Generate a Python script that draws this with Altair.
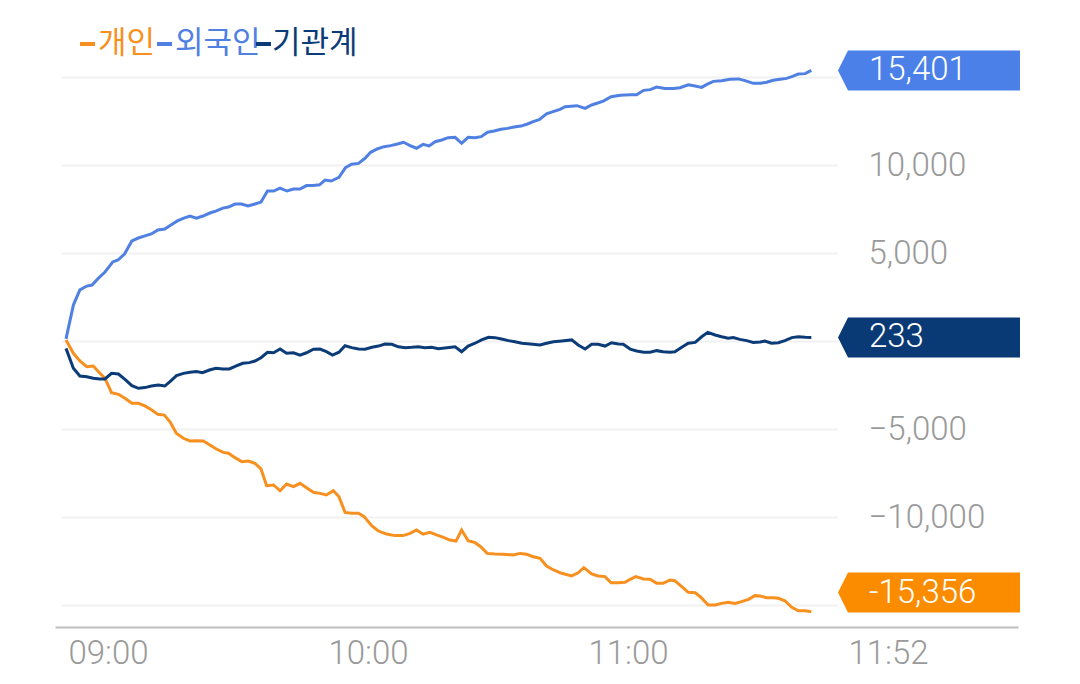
import altair as alt
import pandas as pd

# minutes after 09:00
blue_t = [0, 1.7, 3.2, 4.8, 6, 7.5, 9, 10.8, 12, 13.5, 15.2, 16.7, 18.2, 19.7, 21.2, 22.8, 24.2, 25.7, 27.2, 28.6,
          30.1, 31.6, 33.2, 34.7, 36.2, 37.5, 39, 40.5, 42, 43.6, 45, 46.5, 47.9, 49.4, 51, 52.5, 54, 55.5, 57, 58.5,
          59.8, 61.2, 63, 64.5, 65.9, 67.5, 69, 70.3, 71.8, 73.4, 74.9, 76.5, 77.9, 79.4, 80.9, 82.4, 83.8, 85.2, 86.7, 88.2,
          89.8, 91.3, 92.8, 94.4, 95.8, 97.3, 98.8, 100.4, 101.9, 103.4, 105, 106.5, 107.8, 109.2, 110.9, 112.4, 114, 115.2, 117.9, 119.8,
          121.3, 122.7, 124, 125.8, 127.9, 130.2, 131.7, 133.3, 134.8, 136.3, 138.2, 140.2, 141.7, 143.6, 145.2, 146.7, 147.9, 149.4, 151.3, 153.2,
          155.2, 156.7, 158.6, 160.2, 161.7, 163.2, 164.8, 166.3, 167.5, 169, 170.6, 172]
blue_v = [150, 2070, 2930, 3150, 3210, 3600, 3950, 4520, 4630, 4970, 5710, 5880, 6000, 6110, 6340, 6390, 6620, 6850, 7010, 7130,
          7010, 7130, 7300, 7420, 7580, 7640, 7810, 7810, 7700, 7810, 7920, 8550, 8550, 8720, 8550, 8660, 8660, 8860, 8870, 8900,
          9170, 9120, 9330, 9880, 10070, 10120, 10410, 10750, 10940, 11070, 11130, 11220, 11320, 11130, 10980, 11200, 11110, 11350, 11450, 11580,
          11600, 11260, 11600, 11580, 11640, 11890, 11960, 12060, 12110, 12190, 12240, 12360, 12490, 12600, 12930, 13060, 13190, 13340, 13400, 13250,
          13440, 13550, 13660, 13910, 13990, 14020, 14020, 14270, 14310, 14460, 14380, 14370, 14420, 14590, 14520, 14440, 14610, 14780, 14820, 14900,
          14920, 14820, 14670, 14670, 14730, 14840, 14900, 14950, 15050, 15200, 15220, 15401]

navy_t = [0, 1.7, 3.2, 4.8, 6.3, 7.8, 9, 10.5, 12.1, 13.6, 15.2, 16.7, 18.2, 19.7, 21.3, 22.8, 24, 25.5, 27.1, 28.6,
          30.1, 31.5, 33.1, 34.6, 36.2, 37.7, 39.3, 40.8, 42.3, 43.6, 45, 46.5, 47.9, 49.4, 50.9, 52.5, 54, 55.5, 57.1, 58.6,
          60.1, 61.5, 63, 64.4, 65.9, 67.5, 69, 70.6, 72.1, 73.6, 75.2, 76.7, 78.3, 79.8, 81.3, 82.8, 84.4, 85.9, 87.9, 89.8,
          91.3, 92.8, 94.4, 95.9, 97.5, 99, 100.5, 102.1, 103.6, 105.2, 107.1, 109.4, 110.9, 112.5, 114.4, 116.7, 118.2, 119.8, 121.3, 122.8,
          124.4, 125.9, 127.5, 128.6, 130.2, 131.7, 133.3, 134.8, 136.3, 137.8, 139.4, 140.5, 142.1, 143.6, 145.2, 146.7, 148.1, 149.8, 151.3, 152.8,
          154, 155.5, 157.1, 158.6, 160.2, 161.3, 162.8, 164.4, 165.9, 167.5, 169, 170.6, 172]
navy_v = [-390, -1520, -1960, -2000, -2090, -2130, -2130, -1810, -1850, -2150, -2510, -2660, -2620, -2530, -2470, -2530, -2280, -1940, -1810, -1750,
          -1710, -1770, -1620, -1520, -1560, -1560, -1390, -1240, -1200, -1110, -920, -610, -640, -430, -670, -640, -770, -640, -440, -430,
          -580, -770, -610, -240, -350, -430, -440, -330, -260, -140, -160, -300, -350, -330, -300, -350, -330, -410, -350, -300,
          -580, -260, -100, 90, 240, 220, 140, 50, -10, -100, -140, -200, -100, -10, 30, 90, -200, -430, -160, -160,
          -260, -70, -140, -160, -430, -540, -610, -610, -520, -580, -610, -580, -330, -100, -50, 270, 520, 370, 270, 180,
          220, 120, 50, -50, -30, 30, -100, -70, 50, 220, 270, 240, 233]

orange_t = [0, 1.7, 3.2, 4.8, 6.3, 7.5, 9, 10.5, 12.1, 13.6, 15.2, 16.7, 18.2, 19.8, 21.2, 22.7, 24, 25.5, 27.1, 28.6,
            30.1, 31.7, 33.2, 34.7, 36.3, 37.5, 39, 40.6, 42.1, 43.6, 45, 46.3, 47.9, 49.4, 50.9, 52.5, 54, 55.5, 57.1, 58.6,
            60.1, 61.7, 63, 64.4, 65.9, 67.5, 68.8, 70.6, 72.1, 74, 75.9, 77.8, 79.4, 80.9, 82.4, 84, 85.5, 87.1, 88.6, 90,
            91.3, 92.8, 94.4, 95.7, 97.2, 99, 100.9, 103.2, 104.8, 106.3, 107.8, 109.4, 110.9, 112.5, 114.4, 116.7, 118.2, 119.5, 121.3, 122.8,
            124.4, 125.8, 127.5, 129, 130.2, 131.5, 133.3, 134.8, 136.3, 137.8, 139.4, 140.5, 142.1, 143.6, 145.2, 146.5, 148.2, 149.8, 151.3, 152.8,
            154.4, 155.9, 157.5, 159, 160.2, 161.7, 163.2, 164.4, 165.9, 167.5, 169, 170.6, 172]
orange_v = [90, -670, -1110, -1430, -1390, -1720, -2090, -2910, -3000, -3230, -3510, -3510, -3660, -3890, -4140, -4180, -4560, -5220, -5500, -5650,
            -5640, -5650, -5880, -6110, -6300, -6350, -6600, -6830, -6790, -6920, -7240, -8190, -8150, -8480, -8100, -8250, -8060, -8310, -8570, -8630,
            -8720, -8480, -8820, -9710, -9760, -9760, -9950, -10480, -10770, -10940, -11030, -11030, -10900, -10710, -10950, -10840, -10990, -11130, -11280, -11340,
            -10710, -11320, -11430, -11660, -12040, -12080, -12090, -12130, -12040, -12090, -12230, -12320, -12760, -12980, -13170, -13320, -13140, -12850, -13210, -13320,
            -13360, -13710, -13710, -13680, -13510, -13360, -13490, -13510, -13740, -13740, -13550, -13590, -13930, -14250, -14270, -14530, -14970, -14970, -14880, -14820,
            -14880, -14780, -14650, -14440, -14460, -14560, -14560, -14590, -14730, -15100, -15300, -15300, -15356]

series_names = ["개인", "외국인", "기관계"]
line_colors = ["#f7901e", "#4f80e2", "#0c3c78"]
badge_colors = ["#fb8c00", "#4a80e8", "#0a3a75"]
last_values = [-15356, 15401, 233]

grid_vals = [-15000, -10000, -5000, 0, 5000, 10000, 15000]
y_label_vals = [-10000, -5000, 5000, 10000]
x_tick_vals = [0, 60, 120, 180]
x_tick_labels = ["09:00", "10:00", "11:00", "11:52"]

NUM_FONT = "Roboto"
KR_FONT = "Noto Sans CJK KR"

rows = []
for name, ts, vs in [("개인", orange_t, orange_v), ("외국인", blue_t, blue_v), ("기관계", navy_t, navy_v)]:
    for t, v in zip(ts, vs):
        rows.append({"series": name, "t": t, "v": v})
df = pd.DataFrame(rows)

xscale = alt.Scale(domain=[-2.54, 219.7], nice=False, zero=False)
yscale = alt.Scale(domain=[-16222, 16847], nice=False, zero=False)
color_scale = alt.Scale(domain=series_names, range=line_colors)

label_expr = "[" + ",".join("'%s'" % s for s in x_tick_labels) + "][indexof([" + ",".join(str(v) for v in x_tick_vals) + "], datum.value)]"

y_axis = alt.Axis(
    orient="right", values=y_label_vals, format=",d",
    labelAlign="left", labelPadding=-150,
    ticks=False, tickSize=0, domain=False, grid=False, title=None,
    labelFont=NUM_FONT, labelFontSize=33, labelFontWeight=300, labelColor="#9a9a9a",
    labelBaseline="middle")

grid = alt.Chart(pd.DataFrame({"g": grid_vals})).mark_rule(color="#f1f1f1", strokeWidth=2).encode(
    y=alt.Y("g:Q", scale=yscale, axis=y_axis),
    x=alt.value(7), x2=alt.value(783),
)

axis_x = alt.Axis(values=x_tick_vals, labelExpr=label_expr, labelAlign="left", labelBaseline="top",
                  labelPadding=10, labelOffset=2, labelFont=NUM_FONT, labelFontSize=33, labelFontWeight=300,
                  labelColor="#9a9a9a", ticks=False, grid=False, domainColor="#bdbdbd", domainWidth=2,
                  title=None, labelFlush=False, labelOverlap=False)

lines = alt.Chart(df).mark_line(strokeWidth=3, interpolate="linear").encode(
    x=alt.X("t:Q", scale=xscale, axis=axis_x),
    y=alt.Y("v:Q", scale=yscale, axis=y_axis),
    color=alt.Color("series:N", scale=color_scale, legend=None),
    order=alt.Order("t:Q"),
)

badge_df = pd.DataFrame({"series": series_names, "last": last_values, "bcolor": badge_colors})
badge_path = "M-1,0 L-0.89,-0.22 L1,-0.22 L1,0.22 L-0.89,0.22 Z"
badge_base = alt.Chart(badge_df).transform_calculate(
    ypos="clamp(datum.last, -14262, 15500)",
    label="replace(format(datum.last, ','), '\u2212', '-')",
)
badges = badge_base.mark_point(shape=badge_path, size=182 * 182, filled=True, opacity=1, strokeWidth=0).encode(
    x=alt.value(874),
    y=alt.Y("ypos:Q", scale=yscale, axis=y_axis),
    fill=alt.Fill("bcolor:N", scale=None),
)
badge_text = badge_base.mark_text(align="left", baseline="middle", color="white", font=NUM_FONT,
                                  fontSize=33, fontWeight=300).encode(
    x=alt.value(814),
    y=alt.Y("ypos:Q", scale=yscale, axis=y_axis),
    text="label:N",
)

# legend
legend_layers = []
legend_x = [(25, 43), (102, 120), (201, 217)]
for (sx, tx), name, col in zip(legend_x, series_names, line_colors):
    ld = pd.DataFrame({"name": [name]})
    legend_layers.append(alt.Chart(ld).mark_rule(color=col, strokeWidth=4).encode(
        x=alt.value(sx), x2=alt.value(sx + 15), y=alt.value(-1)))
    legend_layers.append(alt.Chart(ld).mark_text(align="left", baseline="middle", color=col, font=KR_FONT,
                                                 fontSize=31).encode(
        x=alt.value(tx), y=alt.value(-1), text="name:N"))

chart = alt.layer(grid, lines, badges, badge_text, *legend_layers).properties(
    width=963, height=582,
    padding={"left": 55, "top": 45, "right": 62, "bottom": 57},
    autosize="none",
    background="white",
).configure_view(strokeWidth=0, stroke=None)

chart.save("out.html", embed_options={"renderer": "svg", "actions": False})
